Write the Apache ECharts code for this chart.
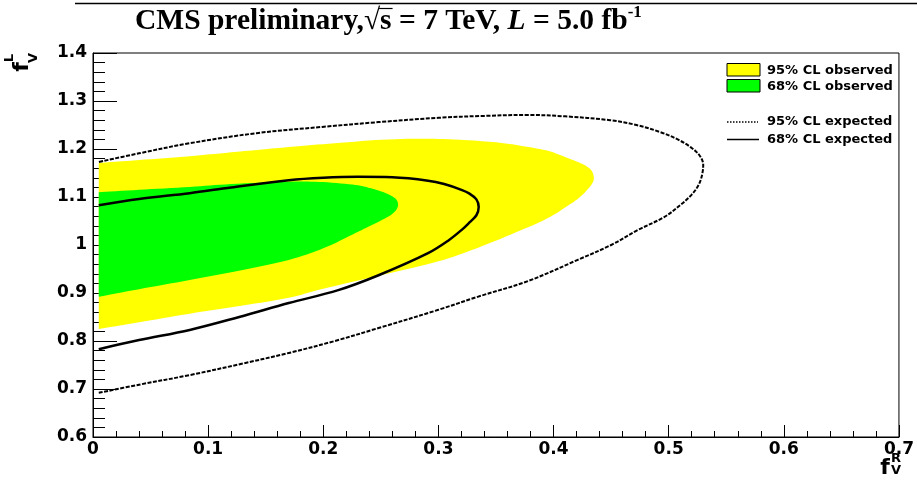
<!DOCTYPE html>
<html>
<head>
<meta charset="utf-8">
<script src="https://cdn.jsdelivr.net/npm/echarts@6/dist/echarts.min.js"></script>
<style>
  html, body { margin: 0; padding: 0; background: #fff; }
  #chart { width: 917px; height: 488px; }
</style>
</head>
<body>
<div id="chart"></div>
<script>
// Observed 95% CL region: lower edge left to right, round the tip, upper edge back to the left
const obs95 = [
  [0.005, 0.825], [0.04, 0.839], [0.084, 0.857], [0.13, 0.874], [0.17, 0.890],
  [0.20, 0.909], [0.25, 0.937], [0.30, 0.966], [0.334, 0.994], [0.372, 1.031],
  [0.395, 1.056], [0.410, 1.078], [0.422, 1.098], [0.430, 1.117], [0.434, 1.130],
  [0.435, 1.141], [0.433, 1.155], [0.428, 1.165], [0.421, 1.173], [0.405, 1.188],
  [0.392, 1.198], [0.36, 1.211], [0.334, 1.217], [0.30, 1.221], [0.257, 1.220],
  [0.21, 1.212], [0.17, 1.204], [0.12, 1.193], [0.084, 1.185], [0.04, 1.177],
  [0.005, 1.171]
];

// Observed 68% CL region
const obs68 = [
  [0.005, 0.892], [0.04, 0.908], [0.084, 0.927], [0.13, 0.948], [0.17, 0.969],
  [0.20, 0.993], [0.228, 1.025], [0.245, 1.045], [0.257, 1.060], [0.263, 1.072],
  [0.265, 1.084], [0.263, 1.096], [0.257, 1.105], [0.251, 1.111], [0.24, 1.119],
  [0.228, 1.125], [0.20, 1.131], [0.17, 1.132], [0.12, 1.127], [0.084, 1.121],
  [0.04, 1.115], [0.005, 1.110]
];

// Expected 95% CL contour (open at the left edge)
const exp95 = [
  [0.005, 0.692], [0.04, 0.709], [0.084, 0.729], [0.13, 0.753], [0.17, 0.775],
  [0.21, 0.800], [0.248, 0.827], [0.30, 0.865], [0.334, 0.892], [0.378, 0.925],
  [0.421, 0.969], [0.450, 1.000], [0.473, 1.031], [0.496, 1.058], [0.510, 1.083],
  [0.520, 1.105], [0.526, 1.125], [0.529, 1.146], [0.530, 1.167], [0.527, 1.186],
  [0.519, 1.204], [0.507, 1.221], [0.493, 1.235], [0.472, 1.250], [0.449, 1.260],
  [0.41, 1.268], [0.378, 1.271], [0.34, 1.269], [0.30, 1.265], [0.248, 1.256],
  [0.199, 1.246], [0.142, 1.233], [0.084, 1.212], [0.04, 1.191], [0.005, 1.173]
];

// Expected 68% CL contour (open at the left edge)
const exp68 = [
  [0.005, 0.783], [0.04, 0.802], [0.084, 0.823], [0.127, 0.850], [0.17, 0.879],
  [0.213, 0.906], [0.248, 0.937], [0.291, 0.983], [0.309, 1.010], [0.320, 1.031],
  [0.327, 1.047], [0.333, 1.062], [0.335, 1.079], [0.333, 1.095], [0.327, 1.107],
  [0.320, 1.115], [0.305, 1.127], [0.291, 1.134], [0.26, 1.141], [0.23, 1.142],
  [0.20, 1.140], [0.17, 1.135], [0.12, 1.120], [0.084, 1.108], [0.04, 1.096],
  [0.005, 1.083]
];

const legendLabels = ['95% CL observed', '68% CL observed', '95% CL expected', '68% CL expected'];

const YELLOW = '#ffff00';
const GREEN = '#00ff00';
const DOT = [4, 1.5];
const LABEL_FONT = 'DejaVu Sans';

const chart = echarts.init(document.getElementById('chart'), null, { renderer: 'canvas' });

// Smooth the open outline (Catmull-Rom in pixel space); the polygon closes with a straight left edge
function smoothOutline(px) {
  const out = [px[0]];
  const n = px.length;
  const steps = 8;
  for (let i = 0; i < n - 1; i++) {
    const p0 = px[Math.max(i - 1, 0)], p1 = px[i], p2 = px[i + 1], p3 = px[Math.min(i + 2, n - 1)];
    const c1 = [p1[0] + (p2[0] - p0[0]) / 6, p1[1] + (p2[1] - p0[1]) / 6];
    const c2 = [p2[0] - (p3[0] - p1[0]) / 6, p2[1] - (p3[1] - p1[1]) / 6];
    for (let s = 1; s <= steps; s++) {
      const t = s / steps, u = 1 - t;
      out.push([
        u * u * u * p1[0] + 3 * u * u * t * c1[0] + 3 * u * t * t * c2[0] + t * t * t * p2[0],
        u * u * u * p1[1] + 3 * u * u * t * c1[1] + 3 * u * t * t * c2[1] + t * t * t * p2[1]
      ]);
    }
  }
  return out;
}

function regionSeries(pts, color) {
  return {
    type: 'custom',
    silent: true,
    clip: true,
    data: [[0, 0]],
    renderItem: function (params, api) {
      const px = pts.map(function (p) { return api.coord(p); });
      return {
        type: 'polygon',
        shape: { points: smoothOutline(px) },
        style: { fill: color, stroke: null }
      };
    },
    z: 1
  };
}

function contourSeries(pts, dash, width) {
  return {
    type: 'line',
    data: pts,
    smooth: 0.35,
    symbol: 'none',
    silent: true,
    lineStyle: { color: '#000', width: width, type: dash },
    z: 3
  };
}

// Title: measure the pieces so the bar over "s" sits on top of it
const TITLE_FONT_SIZE = 29.5;
const titleFont = 'bold ' + TITLE_FONT_SIZE + 'px "Liberation Serif"';
const mctx = document.createElement('canvas').getContext('2d');
mctx.font = titleFont;
const titleX = 135, titleY = 21;
const preW = mctx.measureText('CMS preliminary,\u221A').width;
const sW = mctx.measureText('s').width;

const legendX = 727, legendTextX = 767;
const legendRows = [70.5, 86.5, 122, 139.5];

const graphics = [
  // rule along the top edge
  { type: 'line', shape: { x1: 75, y1: 3.5, x2: 917, y2: 3.5 }, style: { stroke: '#000', lineWidth: 1.5 } },
  {
    type: 'text', x: titleX, y: titleY,
    style: {
      text: '{b|CMS preliminary,\u221As = 7 TeV, }{i|L}{b| = 5.0 fb}{sup|-1}',
      verticalAlign: 'middle',
      rich: {
        b: { fontFamily: 'Liberation Serif', fontWeight: 'bold', fontSize: TITLE_FONT_SIZE, fill: '#000' },
        i: { fontFamily: 'Liberation Serif', fontWeight: 'bold', fontStyle: 'italic', fontSize: TITLE_FONT_SIZE, fill: '#000' },
        sup: { fontFamily: 'Liberation Serif', fontWeight: 'bold', fontSize: 17, fill: '#000', verticalAlign: 'top', padding: [0, 0, 16, 0] }
      }
    }
  },
  { type: 'line', shape: { x1: titleX + preW - 1, y1: titleY - 12.5, x2: titleX + preW + sW + 1, y2: titleY - 12.5 },
    style: { stroke: '#000', lineWidth: 1.2 } },

  // y-axis name: f with superscript L and subscript V, reading upwards
  { type: 'text', x: 22, y: 67, rotation: Math.PI / 2,
    style: { text: 'f', fontFamily: LABEL_FONT, fontWeight: 'bold', fontSize: 22, fill: '#000', align: 'center', verticalAlign: 'middle' } },
  { type: 'text', x: 10, y: 58, rotation: Math.PI / 2,
    style: { text: 'L', fontFamily: LABEL_FONT, fontWeight: 'bold', fontSize: 13, fill: '#000', align: 'center', verticalAlign: 'middle' } },
  { type: 'text', x: 34, y: 58, rotation: Math.PI / 2,
    style: { text: 'V', fontFamily: LABEL_FONT, fontWeight: 'bold', fontSize: 13, fill: '#000', align: 'center', verticalAlign: 'middle' } },

  // x-axis name: f with superscript R and subscript V
  { type: 'text', x: 885, y: 468,
    style: { text: 'f', fontFamily: LABEL_FONT, fontWeight: 'bold', fontSize: 22, fill: '#000', align: 'center', verticalAlign: 'middle' } },
  { type: 'text', x: 896, y: 459,
    style: { text: 'R', fontFamily: LABEL_FONT, fontWeight: 'bold', fontSize: 13, fill: '#000', align: 'center', verticalAlign: 'middle' } },
  { type: 'text', x: 896, y: 471,
    style: { text: 'V', fontFamily: LABEL_FONT, fontWeight: 'bold', fontSize: 13, fill: '#000', align: 'center', verticalAlign: 'middle' } },

  // legend swatches
  { type: 'rect', shape: { x: legendX, y: 63.5, width: 33, height: 12.5 }, style: { fill: YELLOW, stroke: '#000', lineWidth: 1 } },
  { type: 'rect', shape: { x: legendX, y: 79.5, width: 33, height: 12.5 }, style: { fill: GREEN, stroke: '#000', lineWidth: 1 } },
  { type: 'line', shape: { x1: legendX, y1: legendRows[2], x2: legendX + 31, y2: legendRows[2] },
    style: { stroke: '#000', lineWidth: 1.5, lineDash: [1.5, 1.5] } },
  { type: 'line', shape: { x1: legendX, y1: legendRows[3], x2: legendX + 32, y2: legendRows[3] },
    style: { stroke: '#000', lineWidth: 1.5 } }
];

legendLabels.forEach(function (t, i) {
  graphics.push({
    type: 'text', x: legendTextX, y: legendRows[i],
    style: { text: t, fontFamily: LABEL_FONT, fontWeight: 'bold', fontSize: 13, fill: '#000', verticalAlign: 'middle' }
  });
});

const option = {
  animation: false,
  backgroundColor: '#fff',
  grid: { left: 93, right: 14, top: 53, bottom: 51, show: true, borderColor: '#000', borderWidth: 1, backgroundColor: 'transparent' },
  xAxis: {
    type: 'value', min: 0, max: 0.7, interval: 0.1,
    axisLine: { show: true, lineStyle: { color: '#000', width: 1 } },
    axisTick: { show: true, inside: true, length: 12, lineStyle: { color: '#000', width: 1 } },
    minorTick: { show: true, splitNumber: 5, length: 6, lineStyle: { color: '#000', width: 1 } },
    splitLine: { show: false },
    minorSplitLine: { show: false },
    axisLabel: { color: '#000', fontFamily: LABEL_FONT, fontWeight: 'bold', fontSize: 17, margin: 4 }
  },
  yAxis: {
    type: 'value', min: 0.6, max: 1.4, interval: 0.1,
    axisLine: { show: true, lineStyle: { color: '#000', width: 1 } },
    axisTick: { show: true, inside: true, length: 24, lineStyle: { color: '#000', width: 1 } },
    minorTick: { show: true, splitNumber: 5, length: 12, lineStyle: { color: '#000', width: 1 } },
    splitLine: { show: false },
    minorSplitLine: { show: false },
    axisLabel: { color: '#000', fontFamily: LABEL_FONT, fontWeight: 'bold', fontSize: 17, margin: 6 }
  },
  series: [
    regionSeries(obs95, YELLOW),
    regionSeries(obs68, GREEN),
    contourSeries(exp95, DOT, 2),
    contourSeries(exp68, 'solid', 2.5)
  ],
  graphic: graphics
};

chart.setOption(option);
</script>
</body>
</html>
